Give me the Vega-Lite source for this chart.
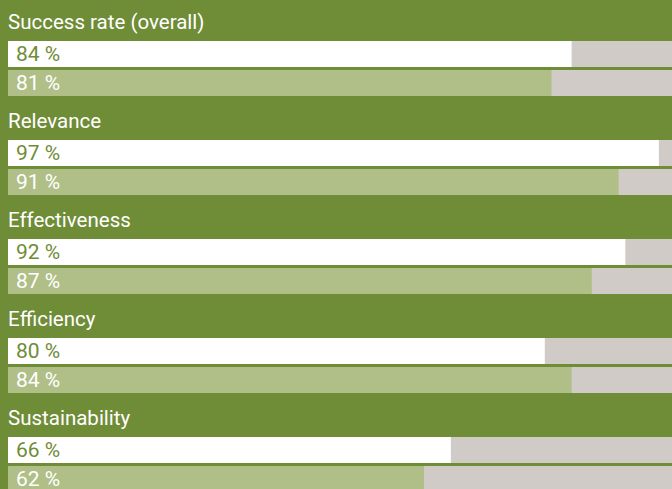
{
  "$schema": "https://vega.github.io/schema/vega-lite/v6.json",
  "width": 672,
  "height": 489,
  "autosize": "none",
  "padding": 0,
  "background": "#6f8c37",
  "config": {"view": {"stroke": null}, "font": "Roboto"},
  "data": {
    "values": [
      {"group": "Success rate (overall)", "series": "latest", "value": 84},
      {"group": "Success rate (overall)", "series": "previous", "value": 81},
      {"group": "Relevance", "series": "latest", "value": 97},
      {"group": "Relevance", "series": "previous", "value": 91},
      {"group": "Effectiveness", "series": "latest", "value": 92},
      {"group": "Effectiveness", "series": "previous", "value": 87},
      {"group": "Efficiency", "series": "latest", "value": 80},
      {"group": "Efficiency", "series": "previous", "value": 84},
      {"group": "Sustainability", "series": "latest", "value": 66},
      {"group": "Sustainability", "series": "previous", "value": 62}
    ]
  },
  "transform": [{"calculate": "datum.value + ' %'", "as": "label"}],
  "encoding": {
    "y": {
      "field": "group",
      "type": "nominal",
      "sort": null,
      "axis": null,
      "scale": {"range": [41, 492], "paddingInner": 0.444, "paddingOuter": 0}
    },
    "yOffset": {
      "field": "series",
      "type": "nominal",
      "sort": ["latest", "previous"],
      "scale": {"paddingInner": 0.1, "paddingOuter": 0}
    }
  },
  "layer": [
    {
      "mark": {"type": "bar", "color": "#d0cbc6", "clip": true},
      "encoding": {
        "x": {"datum": 100, "type": "quantitative", "axis": null, "scale": {"domain": [0, 100], "range": [8, 679]}},
        "x2": {"datum": 0}
      }
    },
    {
      "mark": {"type": "bar", "clip": true},
      "encoding": {
        "x": {"field": "value", "type": "quantitative", "axis": null},
        "color": {
          "field": "series",
          "type": "nominal",
          "legend": null,
          "scale": {"domain": ["latest", "previous"], "range": ["#ffffff", "#afbf87"]}
        }
      }
    },
    {
      "mark": {"type": "text", "align": "left", "baseline": "middle", "dx": 8, "dy": 1, "fontSize": 21, "clip": true},
      "encoding": {
        "x": {"datum": 0, "type": "quantitative"},
        "text": {"field": "label"},
        "color": {
          "condition": {"test": "datum.series === 'latest'", "value": "#6f8c37"},
          "value": "#ffffff"
        }
      }
    },
    {
      "transform": [{"filter": "datum.series === 'latest'"}],
      "mark": {"type": "text", "align": "left", "baseline": "alphabetic", "dy": -12, "fontSize": 20.5, "color": "#ffffff"},
      "encoding": {
        "x": {"datum": 0, "type": "quantitative"},
        "y": {"field": "group", "type": "nominal", "sort": null, "bandPosition": 0},
        "yOffset": null,
        "text": {"field": "group"}
      }
    }
  ]
}
